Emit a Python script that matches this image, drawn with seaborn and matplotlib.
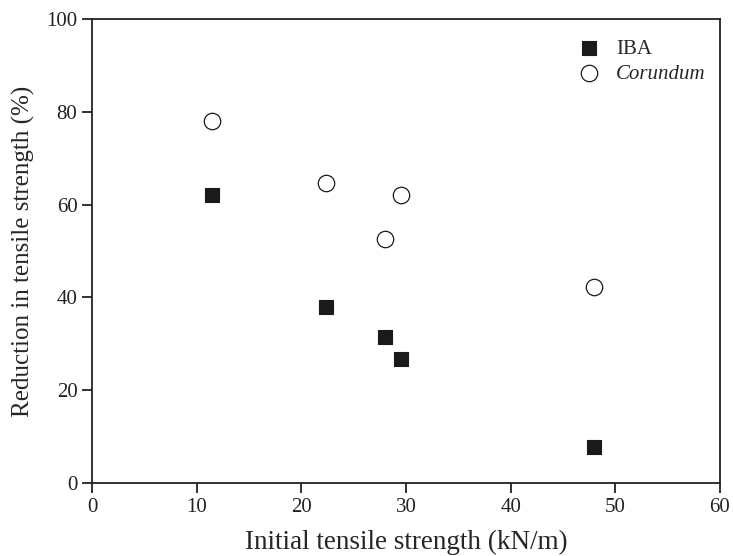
import numpy as np
import pandas as pd
import matplotlib.pyplot as plt
import seaborn as sns

# data
initial_strength = [11.5, 22.4, 28.0, 29.5, 48.0]
reduction_iba = [62.0, 37.9, 31.5, 26.8, 7.8]
reduction_corundum = [78.0, 64.7, 52.6, 62.0, 42.3]

df = pd.DataFrame({
    'x': initial_strength * 2,
    'y': reduction_iba + reduction_corundum,
    'group': ['IBA'] * 5 + ['Corundum'] * 5,
})

sns.set_style('ticks')
plt.rcParams['font.family'] = ['Liberation Serif', 'DejaVu Serif']

fig = plt.figure(figsize=(7.33, 5.56), dpi=100)
ax = fig.add_axes([0.1255, 0.1313, 0.8567, 0.8345])

sns.scatterplot(data=df[df.group == 'IBA'], x='x', y='y', marker='s', s=110,
                color='#1a1a1a', edgecolor='#1a1a1a', linewidth=0.8, label='IBA', ax=ax)
sns.scatterplot(data=df[df.group == 'Corundum'], x='x', y='y', marker='o', s=140,
                facecolor='white', edgecolor='#1a1a1a', linewidth=0.9,
                label='Corundum', ax=ax)

ax.set_xlim(0, 60)
ax.set_ylim(0, 100)
ax.set_xticks(np.arange(0, 61, 10))
ax.set_yticks(np.arange(0, 101, 20))
for s in ax.spines.values():
    s.set_linewidth(1.3)
    s.set_color('#222222')
ax.tick_params(direction='out', length=7, width=1.3, labelsize=15, colors='#222222')
ax.tick_params(axis='x', pad=4)
ax.set_xlabel('Initial tensile strength (kN/m)', fontsize=19.5, labelpad=9)
ax.set_ylabel('Reduction in tensile strength (%)', fontsize=18, labelpad=8)

leg = ax.legend(loc='upper right', bbox_to_anchor=(1.007, 0.997), frameon=False,
                fontsize=15, handletextpad=0.5, labelspacing=0.25, handlelength=1.6)
leg.get_texts()[1].set_fontstyle('italic')

fig.savefig('out.png', dpi=100)
